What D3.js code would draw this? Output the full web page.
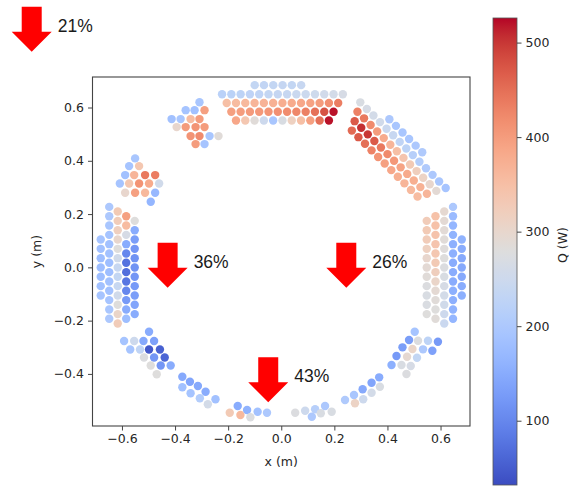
<!DOCTYPE html>
<html><head><meta charset="utf-8">
<script src="https://cdn.jsdelivr.net/npm/d3@7"></script>
<style>
html,body{margin:0;padding:0;background:#fff;}
svg{display:block;font-family:"DejaVu Sans",sans-serif;}
</style></head>
<body>
<div id="chart"></div>
<script>
// ---------------- data ----------------
const xTicks = [-0.6, -0.4, -0.2, 0.0, 0.2, 0.4, 0.6];
const yTicks = [-0.4, -0.2, 0.0, 0.2, 0.4, 0.6];
const cbTicks = [100, 200, 300, 400, 500];
const qDomain = [32, 526];

// rows: [startX, startY, [Q per dot]] ; dots advance along the group step (m)
const topStep = [0.035, 0];
const topRows = [
  [-0.100, 0.684, [235, 232, 235, 238, 235, 240]],
  [-0.223, 0.650, [220, 222, 225, 228, 230, 235, 238, 240, 245, 248, 252, 256, 260, 265]],
  [-0.2055, 0.617, [350, 355, 360, 365, 368, 372, 376, 380, 385, 392, 400, 415, 435]],
  [-0.188, 0.584, [395, 398, 402, 405, 410, 414, 418, 424, 432, 448, 478, 520]],
  [-0.1705, 0.551, [385, 335, 285, 250, 195, 270, 315, 350, 395, 450, 520]]
];

const trStep = [0.02475, -0.02475];
const trRows = [
  [0.4073, 0.5558, [200, 195, 195, 195, 200, 205]],
  [0.2977, 0.6194, [270, 265, 260, 255, 245, 240, 230, 225, 215, 210, 205, 200, 195, 190]],
  [0.2871, 0.5841, [430, 440, 420, 400, 380, 365, 350, 340, 330, 320, 310, 300, 290]],
  [0.2765, 0.5487, [470, 505, 500, 470, 440, 420, 405, 390, 380, 375, 370, 365]],
  [0.2659, 0.5134, [455, 470, 450, 430, 410, 395, 385, 375, 365, 360, 355]]
];

const sideStep = [0, -0.035];
const leftCols = [
  [-0.680, 0.1045, [190, 185, 180, 180, 180, 185, 190]],
  [-0.648, 0.227, [200, 200, 195, 190, 185, 185, 180, 180, 185, 185, 190, 195, 200]],
  [-0.616, 0.2095, [330, 325, 318, 300, 280, 255, 240, 235, 240, 255, 280, 305, 325]],
  [-0.584, 0.192, [395, 355, 265, 150, 100, 75, 70, 80, 100, 125, 150, 180]],
  [-0.552, 0.1745, [280, 150, 130, 120, 115, 115, 120, 125, 130, 140, 150]]
];
const rightCols = [
  [0.548, 0.1745, [325, 330, 325, 315, 300, 290, 285, 275, 270, 272, 280]],
  [0.581, 0.192, [345, 345, 342, 340, 335, 330, 320, 305, 292, 285, 280, 285]],
  [0.614, 0.2095, [295, 290, 288, 285, 282, 280, 275, 270, 265, 260, 255, 250, 245]],
  [0.647, 0.227, [200, 175, 165, 160, 155, 155, 150, 150, 150, 155, 155, 160, 165]],
  [0.680, 0.1045, [160, 150, 145, 145, 145, 150, 155]]
];

// fragments: [x, y, Q]
const tlUpper = [
  [-0.308, 0.620, 195],
  [-0.360, 0.590, 190], [-0.3265, 0.590, 185], [-0.289, 0.590, 395],
  [-0.413, 0.5565, 185], [-0.379, 0.5565, 195], [-0.3415, 0.5565, 355], [-0.308, 0.5565, 400],
  [-0.394, 0.5265, 300], [-0.360, 0.5265, 400], [-0.3227, 0.5265, 410], [-0.289, 0.5265, 400],
  [-0.3415, 0.4927, 410], [-0.308, 0.4927, 420], [-0.270, 0.4927, 195], [-0.2364, 0.4927, 285],
  [-0.3227, 0.4627, 400], [-0.289, 0.4627, 190]
];
const tlLower = [
  [-0.5505, 0.409, 195],
  [-0.573, 0.380, 190], [-0.5355, 0.380, 335],
  [-0.588, 0.3463, 185], [-0.554, 0.3463, 365], [-0.513, 0.3463, 440], [-0.475, 0.3463, 435],
  [-0.608, 0.315, 190], [-0.573, 0.315, 335], [-0.5355, 0.315, 410], [-0.498, 0.315, 380], [-0.460, 0.315, 255],
  [-0.588, 0.280, 300], [-0.5505, 0.280, 395], [-0.513, 0.280, 360], [-0.475, 0.280, 170],
  [-0.4916, 0.246, 165]
];
const blUpper = [
  [-0.498, -0.2417, 150],
  [-0.592, -0.2766, 190], [-0.554, -0.2766, 250], [-0.519, -0.2766, 145], [-0.479, -0.2766, 135],
  [-0.569, -0.3084, 190], [-0.532, -0.3084, 230], [-0.498, -0.3084, 45], [-0.457, -0.3084, 55],
  [-0.517, -0.3385, 275], [-0.479, -0.3385, 120], [-0.439, -0.3385, 60],
  [-0.4916, -0.3685, 280], [-0.454, -0.3685, 120], [-0.4165, -0.3685, 150],
  [-0.469, -0.4015, 280]
];
const blLower = [
  [-0.3726, -0.4105, 145], [-0.344, -0.4293, 140], [-0.314, -0.4454, 145], [-0.285, -0.4668, 150], [-0.2477, -0.4953, 185],
  [-0.3726, -0.4503, 185], [-0.3415, -0.4728, 190], [-0.3066, -0.4916, 210], [-0.2765, -0.514, 260]
];
const bottomLeft = [
  [-0.194, -0.5456, 330], [-0.164, -0.5205, 150], [-0.1538, -0.5542, 360], [-0.1287, -0.5355, 160],
  [-0.1163, -0.5629, 275], [-0.089, -0.5418, 185], [-0.0537, -0.5456, 200]
];
const bottomRight = [
  [0.0525, -0.5456, 275], [0.090, -0.538, 250], [0.1152, -0.5606, 200], [0.1276, -0.5328, 215],
  [0.149, -0.5478, 270], [0.165, -0.5205, 200], [0.190, -0.5418, 270]
];
const brLower = [
  [0.2402, -0.498, 205], [0.274, -0.479, 195], [0.3066, -0.4578, 145], [0.3403, -0.433, 140], [0.3689, -0.4128, 150],
  [0.2777, -0.5103, 310], [0.3088, -0.4953, 250], [0.3403, -0.4705, 260], [0.3715, -0.448, 270]
];
const brUpper = [
  [0.5028, -0.2417, 190],
  [0.4814, -0.2728, 130], [0.5152, -0.2754, 275], [0.5527, -0.2754, 225], [0.5902, -0.2792, 125],
  [0.4567, -0.3002, 130], [0.4942, -0.3066, 305], [0.534, -0.3077, 200], [0.5692, -0.3129, 135],
  [0.4341, -0.3328, 125], [0.4739, -0.3355, 295], [0.5114, -0.3392, 235],
  [0.4154, -0.3666, 155], [0.4529, -0.3666, 270], [0.4878, -0.3704, 265],
  [0.4717, -0.4004, 275]
];

// arrows (data coords of the arrow top centre) and labels
const arrowX = [-0.94, -0.428, 0.245, -0.049];
const arrowY = [0.978, 0.092, 0.092, -0.337];
const arrowLabels = ["21%", "36%", "26%", "43%"];

// coolwarm colour stops
const coolwarm = [
  [59,76,192],[68,90,204],[77,104,215],[87,117,225],[98,130,234],[108,142,241],[119,154,247],[130,165,251],
  [141,176,254],[152,185,255],[163,194,255],[174,201,253],[184,208,249],[194,213,244],[204,217,238],[213,219,230],
  [221,221,221],[229,216,209],[236,211,197],[241,204,185],[245,196,173],[247,187,160],[247,177,148],[247,166,135],
  [244,154,123],[241,141,111],[236,127,99],[229,112,88],[222,96,77],[213,80,66],[203,62,56],[192,40,47],[180,4,38]
].map(c => d3.rgb(c[0], c[1], c[2]).formatHex());

// ---------------- drawing ----------------
const W = 571, H = 486;
const svg = d3.select("#chart").append("svg").attr("width", W).attr("height", H);

const x = d3.scaleLinear().domain([-0.711, 0.711]).range([92.5, 470]);
const y = d3.scaleLinear().domain([-0.5955, 0.7145]).range([426, 77]);
const interp = d3.piecewise(d3.interpolateRgb, coolwarm);
const color = d3.scaleSequential(interp).domain(qDomain).clamp(true);

function expandRows(rows, step) {
  const out = [];
  rows.forEach(r => r[2].forEach((q, i) => out.push([r[0] + i * step[0], r[1] + i * step[1], q])));
  return out;
}
const dots = [].concat(
  expandRows(topRows, topStep), expandRows(trRows, trStep),
  expandRows(leftCols, sideStep), expandRows(rightCols, sideStep),
  tlUpper, tlLower, blUpper, blLower, bottomLeft, bottomRight, brLower, brUpper
);

svg.append("g").selectAll("circle").data(dots).join("circle")
  .attr("cx", d => x(d[0])).attr("cy", d => y(d[1])).attr("r", 4.2)
  .attr("fill", d => color(d[2]));

// frame
svg.append("rect").attr("x", 92.5).attr("y", 77).attr("width", 470 - 92.5).attr("height", 426 - 77)
  .attr("fill", "none").attr("stroke", "#444").attr("stroke-width", 1.1);

const fmt = v => (v < 0 ? "\u2212" : "") + Math.abs(v).toFixed(1);
const gx = svg.append("g").attr("transform", "translate(0,426)")
  .call(d3.axisBottom(x).tickValues(xTicks).tickFormat(fmt).tickSize(4.5).tickPadding(4));
const gy = svg.append("g").attr("transform", "translate(92.5,0)")
  .call(d3.axisLeft(y).tickValues(yTicks).tickFormat(fmt).tickSize(4.5).tickPadding(4));
[gx, gy].forEach(g => {
  g.select(".domain").remove();
  g.selectAll("line").attr("stroke", "#444");
  g.selectAll("text").attr("fill", "#262626").style("font-size", "12.5px").style("font-family", "DejaVu Sans");
});

svg.append("text").attr("x", (x(-0.711) + x(0.711)) / 2).attr("y", 466).attr("text-anchor", "middle")
  .attr("fill", "#262626").style("font-size", "12.5px").text("x (m)");
svg.append("text").attr("transform", "translate(41," + ((y(-0.5955) + y(0.7145)) / 2) + ") rotate(-90)")
  .attr("text-anchor", "middle").attr("fill", "#262626").style("font-size", "12.5px").text("y (m)");

// colour bar
const cb = d3.scaleLinear().domain(qDomain).range([485, 18]);
const defs = svg.append("defs");
const grad = defs.append("linearGradient").attr("id", "cbgrad").attr("x1", 0).attr("y1", 1).attr("x2", 0).attr("y2", 0);
d3.range(0, 1.0001, 0.02).forEach(t => grad.append("stop").attr("offset", t).attr("stop-color", interp(t)));
svg.append("rect").attr("x", 493).attr("y", 18).attr("width", 24).attr("height", 467)
  .attr("fill", "url(#cbgrad)").attr("stroke", "#555").attr("stroke-width", 0.8);
const gc = svg.append("g").attr("transform", "translate(517,0)")
  .call(d3.axisRight(cb).tickValues(cbTicks).tickFormat(d3.format("d")).tickSize(4.5).tickPadding(4));
gc.select(".domain").remove();
gc.selectAll("line").attr("stroke", "#444");
gc.selectAll("text").attr("fill", "#262626").style("font-size", "12.5px").style("font-family", "DejaVu Sans");
svg.append("text").attr("transform", "translate(567,245) rotate(-90)").attr("text-anchor", "middle")
  .attr("fill", "#262626").style("font-size", "12.5px").text("Q (W)");

// arrows
const arrowPath = "M-10,0 L10,0 L10,25 L20,25 L0,45 L-20,25 L-10,25 Z";
arrowX.forEach((ax, i) => {
  const px = x(ax), py = y(arrowY[i]);
  svg.append("path").attr("d", arrowPath).attr("transform", `translate(${px},${py})`).attr("fill", "#ff0000");
  svg.append("text").attr("x", px + 26).attr("y", py + 25).attr("fill", "#1a1a1a")
    .style("font-family", "Liberation Sans, Arial, sans-serif").style("font-size", "17.5px").text(arrowLabels[i]);
});
</script>
</body></html>
